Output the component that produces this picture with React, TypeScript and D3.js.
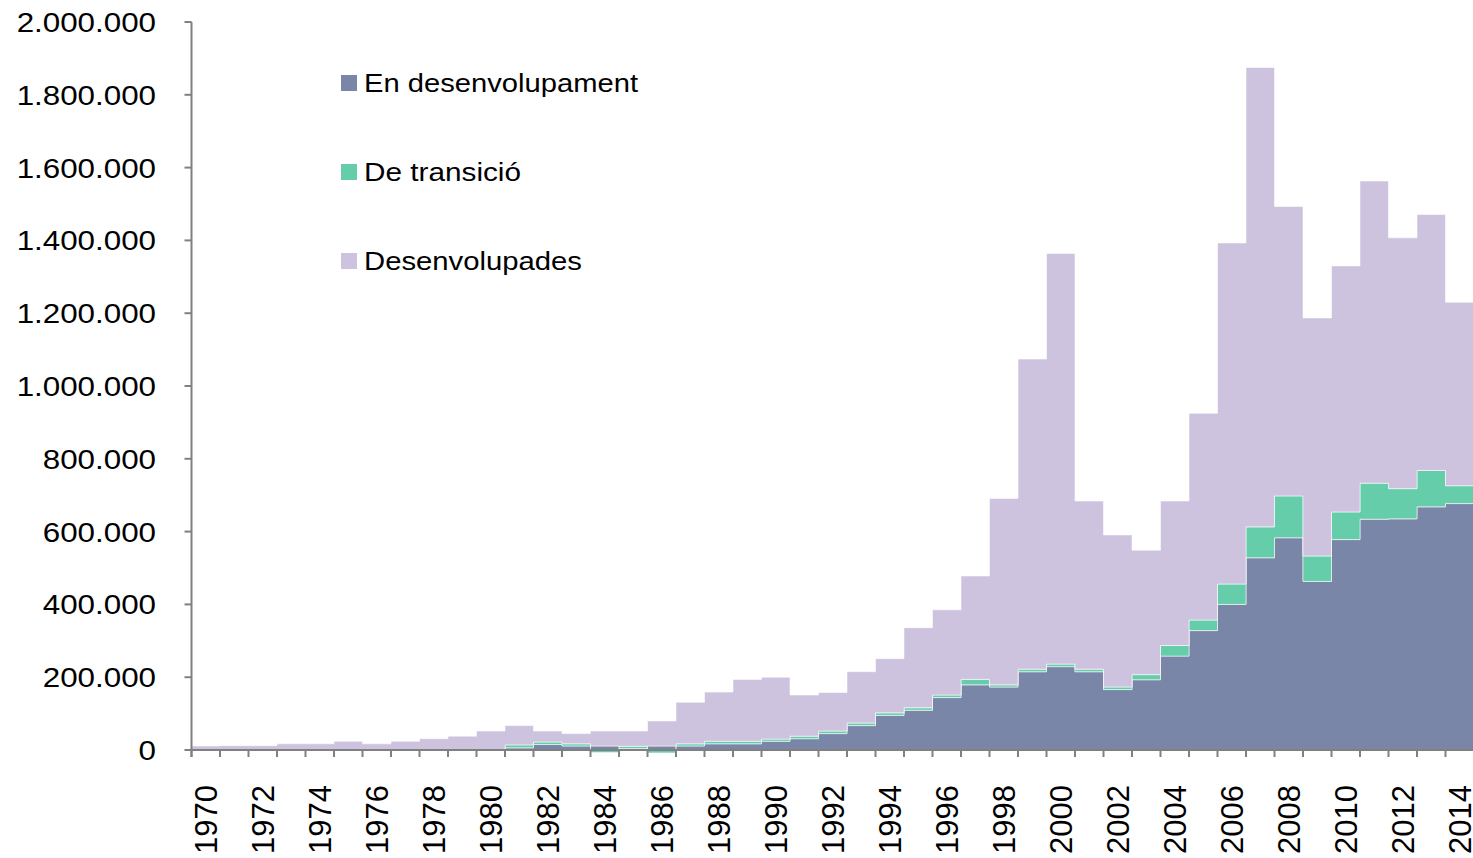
import React, { useEffect } from "react";
import * as d3 from "d3";

const years = [
  1970, 1971, 1972, 1973, 1974, 1975, 1976, 1977, 1978, 1979,
  1980, 1981, 1982, 1983, 1984, 1985, 1986, 1987, 1988, 1989,
  1990, 1991, 1992, 1993, 1994, 1995, 1996, 1997, 1998, 1999,
  2000, 2001, 2002, 2003, 2004, 2005, 2006, 2007, 2008, 2009,
  2010, 2011, 2012, 2013, 2014,
];

// En desenvolupament
const developing = [
  0, 0, 0, 0, 0, 0, 0, 0, 0, 0,
  0, 6000, 15000, 11000, 11000, 4000, 11000, 11000, 17000, 17000,
  24000, 31000, 45000, 67000, 95000, 109000, 144000, 179000, 173000, 215000,
  229000, 215000, 166000, 193000, 258000, 328000, 400000, 528000, 583000, 463000,
  578000, 634000, 635000, 668000, 677000,
];

// De transició
const transition = [
  0, 0, 0, 0, 0, 0, 0, 0, 0, 0,
  0, 8000, 7000, 6000, -7000, 6000, -8000, 6000, 7000, 7000,
  6000, 7000, 7000, 7000, 7000, 7000, 7000, 15000, 6000, 7000,
  7000, 7000, 7000, 14000, 29000, 29000, 56000, 85000, 115000, 70000,
  76000, 99000, 83000, 100000, 49000,
];

// Desenvolupades
const developed = [
  11000, 12000, 12000, 17000, 17000, 24000, 17000, 24000, 31000, 38000,
  52000, 53000, 30000, 28000, 41000, 42000, 69000, 114000, 135000, 170000,
  170000, 113000, 106000, 141000, 149000, 220000, 234000, 284000, 512000, 852000,
  1128000, 462000, 418000, 342000, 397000, 568000, 937000, 1262000, 795000, 654000,
  676000, 830000, 689000, 703000, 504000,
];

const seriesKeys = ["dev", "tr", "dd"];
const seriesNames = ["En desenvolupament", "De transició", "Desenvolupades"];
const seriesColors = ["#7a86a8", "#66cdaa", "#cdc3de"];
const yTicks = [0, 200000, 400000, 600000, 800000, 1000000, 1200000, 1400000, 1600000, 1800000, 2000000];
const labelYears = years.filter((yr) => yr % 2 === 0);

const W = 1473;
const H = 858;
const FONT = "'Liberation Sans', Arial, sans-serif";

const fmt = d3
  .formatLocale({ thousands: ".", grouping: [3], decimal: ",", currency: ["", ""] })
  .format(",d");

export default function App() {
  useEffect(() => {
    document.body.style.margin = "0";
    document.body.style.overflow = "hidden";
  }, []);

  const x = d3.scaleBand<number>().domain(years).range([191.5, 1474]).paddingInner(0).paddingOuter(0);
  const bw = x.bandwidth();
  const y = d3.scaleLinear().domain([0, 2000000]).range([750, 22]);

  const table = years.map((yr, i) => ({
    year: yr,
    dev: developing[i],
    tr: transition[i],
    dd: developed[i],
  }));
  const layers = d3.stack<any>().keys(seriesKeys).offset(d3.stackOffsetDiverging)(table);

  const area = d3
    .area<any>()
    .curve(d3.curveStepAfter)
    .x((p) => p.x)
    .y0((p) => y(p.y0))
    .y1((p) => y(p.y1));

  const paths = layers.map((layer, li) => {
    const pts = layer.map((d, i) => ({ x: x(years[i]) as number, y0: d[0], y1: d[1] }));
    const last = pts[pts.length - 1];
    pts.push({ x: last.x + bw, y0: last.y0, y1: last.y1 });
    return { d: area(pts) as string, color: seriesColors[li] };
  });

  const axisColor = "#808080";
  const x0 = x(years[0]) as number;
  const xEnd = (x(years[years.length - 1]) as number) + bw;

  const legendRows = [83, 172, 261];
  const legendLens = [274, 157, 218];

  return (
    <svg width={W} height={H} style={{ position: "absolute", left: 0, top: 0, background: "#fff" }}>
      {paths.map((p, i) => (
        <path key={i} d={p.d} fill={p.color} stroke="#ffffff" strokeOpacity={0.55} strokeWidth={1} />
      ))}

      {/* y axis */}
      <line x1={x0} x2={x0} y1={y(2000000)} y2={y(0) + 7} stroke={axisColor} strokeWidth={2} />
      {yTicks.map((t) => (
        <g key={t}>
          <line x1={x0 - 7} x2={x0} y1={y(t)} y2={y(t)} stroke={axisColor} strokeWidth={2} />
          <text
            transform={`translate(156,${y(t)}) scale(1.1,1)`}
            textAnchor="end"
            dy="0.35em"
            fontFamily={FONT}
            fontSize={28.5}
            fill="#000"
          >
            {fmt(t)}
          </text>
        </g>
      ))}

      {/* x axis */}
      <line x1={x0} x2={xEnd} y1={y(0)} y2={y(0)} stroke={axisColor} strokeWidth={2} />
      {years.map((yr) => (
        <line
          key={yr}
          x1={x(yr) as number}
          x2={x(yr) as number}
          y1={y(0)}
          y2={y(0) + 7}
          stroke={axisColor}
          strokeWidth={2}
        />
      ))}
      {labelYears.map((yr) => (
        <text
          key={yr}
          transform={`translate(${(x(yr) as number) + bw / 2},785) rotate(-90)`}
          textAnchor="end"
          dy="0.36em"
          fontFamily={FONT}
          fontSize={31}
          fill="#000"
        >
          {yr}
        </text>
      ))}

      {/* legend */}
      {seriesNames.map((name, i) => (
        <g key={name}>
          <rect x={341} y={legendRows[i] - 8} width={16} height={16} fill={seriesColors[i]} />
          <text
            x={364}
            y={legendRows[i]}
            dy="0.35em"
            fontFamily={FONT}
            fontSize={25}
            textLength={legendLens[i]}
            lengthAdjust="spacingAndGlyphs"
            fill="#000"
          >
            {name}
          </text>
        </g>
      ))}
    </svg>
  );
}
